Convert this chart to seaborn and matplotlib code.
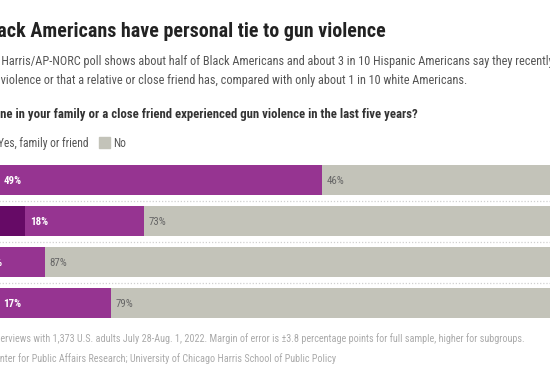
import matplotlib
matplotlib.use("Agg")
import matplotlib.pyplot as plt
from matplotlib import font_manager
import seaborn as sns
import pandas as pd

# ---- data ----
categories = ["Black", "Hispanic", "White", "All adults"]
yes_personal = [5, 9, 2, 5]
yes_family = [49, 18, 10, 17]
no_answer = [46, 73, 87, 79]

title_text = "Black Americans have personal tie to gun violence"
subtitle_1 = "A new Harris/AP-NORC poll shows about half of Black Americans and about 3 in 10 Hispanic Americans say they recently experienced"
subtitle_2 = "gun violence or that a relative or close friend has, compared with only about 1 in 10 white Americans."
question = "Has anyone in your family or a close friend experienced gun violence in the last five years?"
legend_labels = ["Yes, personally", "Yes, family or friend", "No"]
note_text = "NOTE: Based on interviews with 1,373 U.S. adults July 28-Aug. 1, 2022. Margin of error is ±3.8 percentage points for full sample, higher for subgroups."
source_text = "SOURCE: AP-NORC Center for Public Affairs Research; University of Chicago Harris School of Public Policy"

DARK = "#660a66"
PURPLE = "#963491"
GRAY = "#c3c3b9"

sns.set_theme(style="white")

# pick the narrowest available sans family
entries = [(f.name, str(f.stretch)) for f in font_manager.fontManager.ttflist]
FONT, STRETCH = "DejaVu Sans", "normal"
pref_names = ["Liberation Sans Narrow", "Roboto Condensed", "Open Sans Condensed",
              "Noto Sans Condensed", "DejaVu Sans Condensed", "Arial Narrow"]
found = False
for pn in pref_names:
    if any(n == pn for n, s in entries):
        FONT, STRETCH = pn, "normal"
        found = True
        break
if not found:
    for fam in ["Roboto", "Noto Sans", "Open Sans", "DejaVu Sans", "Liberation Sans"]:
        st = [s for n, s in entries if n == fam and "condensed" in s]
        if st:
            FONT, STRETCH = fam, st[0]
            found = True
            break
if not found:
    for n, s in entries:
        if "Narrow" in n or "Condensed" in n:
            FONT, STRETCH = n, "normal"
            break
plt.rcParams["font.family"] = [FONT, "DejaVu Sans"]
plt.rcParams["font.stretch"] = STRETCH

W, H = 550, 375
fig = plt.figure(figsize=(5.5, 3.75), dpi=100)
fig.patch.set_facecolor("white")
renderer = fig.canvas.get_renderer()


def width_px(s, **kw):
    t = fig.text(0, 0, s, **kw)
    w = t.get_window_extent(renderer).width
    t.remove()
    return w


def fit(s, target, **kw):
    return 10 * target / width_px(s, fontsize=10, **kw)


df = pd.DataFrame({
    "category": categories,
    "personal": yes_personal,
    "family": yes_family,
    "no": no_answer,
})
df["yes_total"] = df["personal"] + df["family"]
df["all"] = df["yes_total"] + df["no"]

ax = fig.add_axes([-34.5 / W, 1 - 323.5 / H, 660 / W, 164 / H])
bw = 30 / 41
for col, colr in [("all", GRAY), ("yes_total", PURPLE), ("personal", DARK)]:
    sns.barplot(data=df, y="category", x=col, color=colr, width=bw, ax=ax,
                orient="h", saturation=1, linewidth=0, errorbar=None)
ax.set_xlim(0, 100)
ax.set_ylim(3.5, -0.5)
ax.axis("off")
for yy in [0.5, 1.5, 2.5]:
    ax.axhline(yy, color="#d0d0d0", lw=0.9, ls=(0, (1, 1.5)))

fs_lab = min(fit("49%", 18, fontweight="bold"), 10)
for i, row in df.iterrows():
    ax.annotate(f"{row['family']}%", xy=(row["personal"], i), xytext=(5, -1),
                textcoords="offset pixels", va="center", ha="left",
                color="white", fontsize=fs_lab, fontweight="bold")
    ax.annotate(f"{row['no']}%", xy=(row["yes_total"], i), xytext=(5, -1),
                textcoords="offset pixels", va="center", ha="left",
                color="#666666", fontsize=fs_lab)


def place(full, visible_from, x_vis, y_base, **kw):
    idx = full.index(visible_from)
    wp = width_px(full, **kw) - width_px(full[idx:], **kw)
    fig.text((x_vis - wp) / W, 1 - y_base / H, full, va="baseline", ha="left", **kw)


tkw = dict(fontweight="bold", color="#222222")
fs_t = fit("ack Americans have personal tie to gun violence", 386, fontweight="bold")
place(title_text, "ack Americans", -3, 37, fontsize=fs_t, **tkw)

fs_s = fit("violence or that a relative or close friend has, compared with only about 1 in 10 white Americans.", 463)
place(subtitle_1, "Harris/", 1, 65.5, fontsize=fs_s, color="#555555")
place(subtitle_2, "violence or", 1, 84, fontsize=fs_s, color="#555555")

fs_q = fit("ne in your family or a close friend experienced gun violence in the last five years?", 417, fontweight="bold")
place(question, "ne in your", 0, 118, fontsize=fs_q, fontweight="bold", color="#333333")

# legend
fs_l = fit("Yes, family or friend", 90)
fig.text(89 / W, 1 - 147 / H, legend_labels[1], ha="right", va="baseline",
         fontsize=fs_l, color="#555555")
fig.patches.append(plt.Rectangle((99 / W, 1 - 148 / H), 11 / W, 11 / H,
                                 transform=fig.transFigure, color=GRAY, figure=fig))
fig.text(113 / W, 1 - 147 / H, legend_labels[2], ha="left", va="baseline",
         fontsize=fs_l, color="#555555")

fs_n = fit("erviews with 1,373 U.S. adults July 28-Aug. 1, 2022. Margin of error is ±3.8 percentage points for full sample, higher for subgroups.", 519)
place(note_text, "erviews with", 0, 342, fontsize=fs_n, color="#aaaaaa")
place(source_text, "nter for", 0, 362, fontsize=fs_n, color="#aaaaaa")

fig.savefig("out.png", dpi=100)
